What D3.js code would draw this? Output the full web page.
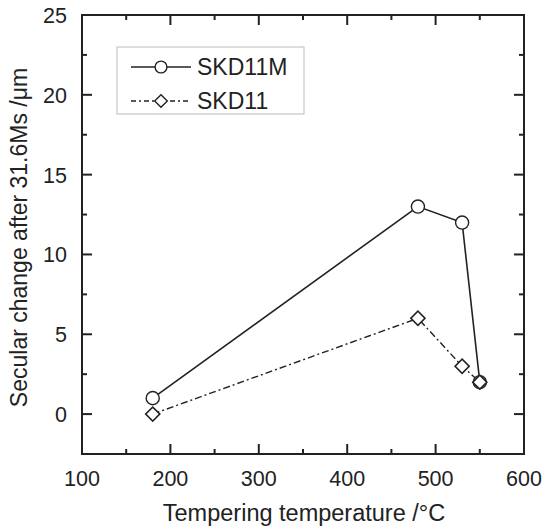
<!DOCTYPE html>
<html>
<head>
<meta charset="utf-8">
<script src="https://cdn.jsdelivr.net/npm/d3@7"></script>
<style>
  body { margin: 0; background: #fff; }
  svg { font-family: "Liberation Sans", Arial, sans-serif; }
</style>
</head>
<body>
<svg id="chart" width="544" height="530"></svg>
<script>
const temps = [180, 480, 530, 550];
const skd11m = [1, 13, 12, 2];
const skd11 = [0, 6, 3, 2];
const xTicks = [100, 200, 300, 400, 500, 600];
const yTicks = [0, 5, 10, 15, 20, 25];
const seriesNames = ["SKD11M", "SKD11"];

const svg = d3.select("#chart");
const margin = { top: 15, right: 20, bottom: 76, left: 82 };
const width = 544, height = 530;

const x = d3.scaleLinear().domain([100, 600]).range([margin.left, width - margin.right]);
const y = d3.scaleLinear().domain([-2.5, 25]).range([height - margin.bottom, margin.top]);

const ink = "#222";

// frame
svg.append("rect")
  .attr("x", x(100)).attr("y", y(25))
  .attr("width", x(600) - x(100)).attr("height", y(-2.5) - y(25))
  .attr("fill", "none").attr("stroke", ink).attr("stroke-width", 2);

// ticks (inward, all four sides)
const xMinor = d3.range(150, 600, 100);
const yMinor = d3.range(-2.5, 25, 5);
const ticks = svg.append("g").attr("stroke", ink).attr("stroke-width", 2);
function xTick(v, len) {
  ticks.append("line").attr("x1", x(v)).attr("x2", x(v)).attr("y1", y(-2.5)).attr("y2", y(-2.5) - len);
  ticks.append("line").attr("x1", x(v)).attr("x2", x(v)).attr("y1", y(25)).attr("y2", y(25) + len);
}
function yTick(v, len) {
  ticks.append("line").attr("y1", y(v)).attr("y2", y(v)).attr("x1", x(100)).attr("x2", x(100) + len);
  ticks.append("line").attr("y1", y(v)).attr("y2", y(v)).attr("x1", x(600)).attr("x2", x(600) - len);
}
xTicks.slice(1, -1).forEach(v => xTick(v, 10));
xMinor.forEach(v => xTick(v, 5));
yTicks.slice(0, -1).forEach(v => yTick(v, 10));
yMinor.forEach(v => yTick(v, 5));

// tick labels
svg.append("g").selectAll("text").data(xTicks).join("text")
  .attr("x", d => x(d)).attr("y", y(-2.5) + 32)
  .attr("text-anchor", "middle").attr("font-size", 21.5).attr("fill", ink)
  .text(d => d);
svg.append("g").selectAll("text").data(yTicks).join("text")
  .attr("x", x(100) - 15).attr("y", d => y(d) + 8)
  .attr("text-anchor", "end").attr("font-size", 21.5).attr("fill", ink)
  .text(d => d);

// axis titles
svg.append("text")
  .attr("x", 304).attr("y", 521)
  .attr("text-anchor", "middle").attr("font-size", 23.5).attr("fill", ink)
  .text("Tempering temperature /°C");
svg.append("text")
  .attr("transform", `translate(27,${(y(25) + y(-2.5)) / 2 + 3}) rotate(-90)`)
  .attr("text-anchor", "middle").attr("font-size", 23).attr("fill", ink)
  .text("Secular change after 31.6Ms /μm");

const line = d3.line().x(d => x(d[0])).y(d => y(d[1]));
const ptsM = temps.map((t, i) => [t, skd11m[i]]);
const pts = temps.map((t, i) => [t, skd11[i]]);

svg.append("path").datum(ptsM).attr("d", line)
  .attr("fill", "none").attr("stroke", ink).attr("stroke-width", 1.6);
svg.append("path").datum(pts).attr("d", line)
  .attr("fill", "none").attr("stroke", ink).attr("stroke-width", 1.4)
  .attr("stroke-dasharray", "7,3,2,3");

const circle = d3.symbol().type(d3.symbolCircle).size(135);
const diamond = d3.symbol().type(d3.symbolSquare).size(100);

svg.append("g").selectAll("path").data(ptsM).join("path")
  .attr("transform", d => `translate(${x(d[0])},${y(d[1])})`)
  .attr("d", circle).attr("fill", "#fff").attr("stroke", ink).attr("stroke-width", 1.4);
svg.append("g").selectAll("path").data(pts).join("path")
  .attr("transform", d => `translate(${x(d[0])},${y(d[1])}) rotate(45)`)
  .attr("d", diamond).attr("fill", "#fff").attr("stroke", ink).attr("stroke-width", 1.6);

// legend
const lg = svg.append("g");
lg.append("rect").attr("x", 117).attr("y", 47).attr("width", 187).attr("height", 67)
  .attr("fill", "#fff").attr("stroke", "#bbb").attr("stroke-width", 1);
seriesNames.forEach((name, i) => {
  const ly = 67 + i * 34;
  lg.append("line").attr("x1", 131).attr("x2", 191).attr("y1", ly).attr("y2", ly)
    .attr("stroke", ink).attr("stroke-width", i === 0 ? 1.6 : 1.4)
    .attr("stroke-dasharray", i === 0 ? null : "5,3,2,3");
  lg.append("path").attr("transform", `translate(161,${ly})` + (i === 0 ? "" : " rotate(45)"))
    .attr("d", i === 0 ? d3.symbol().type(d3.symbolCircle).size(110) : d3.symbol().type(d3.symbolSquare).size(80))
    .attr("fill", "#fff").attr("stroke", ink).attr("stroke-width", 1.4);
  lg.append("text").attr("x", 197).attr("y", ly + 8)
    .attr("font-size", 23).attr("fill", ink).text(name);
});
</script>
</body>
</html>
